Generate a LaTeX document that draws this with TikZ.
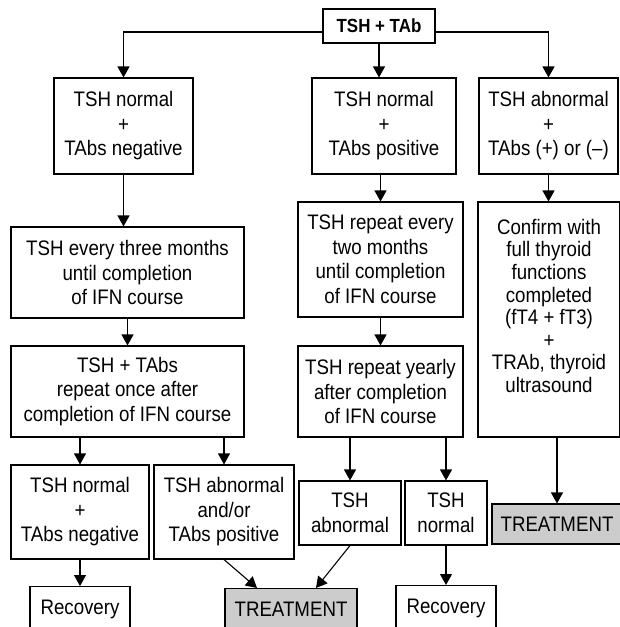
\documentclass[tikz,border=0pt]{standalone}
\usepackage{fontspec}
\setmainfont{Liberation Sans}[FakeStretch=0.89]
\usetikzlibrary{arrows.meta}
\definecolor{treatgray}{HTML}{CCCCCC}
\begin{document}
\begin{tikzpicture}[x=1pt,y=-1pt,
  box/.style={draw, line width=1.1pt, inner sep=0pt, align=center, font=\fontsize{21}{24.5}\selectfont},
  conn/.style={line width=1.1pt, -{Triangle[length=11pt,width=12pt]}},
  treat/.style={box, fill=treatgray},
  endbox/.style={box, anchor=north, text height=15.3pt, text depth=30pt, inner ysep=12.5pt}]
\useasboundingbox (0,0) rectangle (619,627);
% top
\node[box, minimum width=112pt, minimum height=34pt, font=\fontsize{19}{22}\selectfont\bfseries] (top) at (379,26) {TSH + TAb};
% row 1
\node[box, minimum width=139pt, minimum height=96pt] (L1) at (123.5,126) {TSH normal\\+\\TAbs negative};
\node[box, minimum width=144pt, minimum height=96pt] (M1) at (384,126) {TSH normal\\+\\TAbs positive};
\node[box, minimum width=139pt, minimum height=96pt] (R1) at (548.5,126) {TSH abnormal\\+\\TAbs (+) or (–)};
% row 2
\node[box, minimum width=233pt, minimum height=91pt] (L2) at (127.5,272.5) {TSH every three months\\until completion\\of IFN course};
\node[box, minimum width=165pt, minimum height=115pt] (M2) at (380.5,259.5) {TSH repeat every\\two months\\until completion\\of IFN course};
\node[box] (R2) at (549,319.5) {\parbox[c][235pt][t]{142pt}{\centering\fontsize{21}{22.6}\selectfont\vspace*{17pt}Confirm with\\full thyroid\\functions\\completed\\(fT4 + fT3)\\+\\TRAb, thyroid\\ultrasound}};
% row 3
\node[box, minimum width=233pt, minimum height=91pt] (L3) at (127.5,391.5) {TSH + TAbs\\repeat once after\\completion of IFN course};
\node[box, minimum width=165pt, minimum height=91pt] (M3) at (380.5,391.5) {TSH repeat yearly\\after completion\\of IFN course};
% row 4
\node[box, minimum width=138pt, minimum height=94pt] (L4a) at (80,512) {TSH normal\\+\\TAbs negative};
\node[box, minimum width=140pt, minimum height=94pt] (L4b) at (224,512) {TSH abnormal\\and/or\\TAbs positive};
\node[box, minimum width=102pt, minimum height=64pt] (M4a) at (350,513) {TSH\\abnormal};
\node[box, minimum width=82pt, minimum height=64pt] (M4b) at (446,513) {TSH\\normal};
\node[treat, minimum width=130pt, minimum height=40pt] (R3) at (557,524) {TREATMENT};
% row 5
\node[endbox, minimum width=100pt] (L5) at (80,586) {Recovery};
\node[endbox, treat, minimum width=132pt, inner ysep=12.7pt] (T2) at (291,588) {TREATMENT};
\node[endbox, minimum width=100pt] (M5) at (446,585) {Recovery};
% connectors
\draw[conn] ([yshift=-6pt]top.west) -| (L1.north);
\draw[conn] ([yshift=-6pt]top.east) -| (R1.north);
\draw[conn] (top.south) -- (top.south |- M1.north);
\draw[conn] (L1.south) -- (L1.south |- L2.north);
\draw[conn] (L2.south) -- (L3.north);
\draw[conn] (M2.north |- M1.south) -- (M2.north);
\draw[conn] (M2.south) -- (M3.north);
\draw[conn] (R1.south) -- (R1.south |- R2.north);
\draw[conn] (L4a.north |- L3.south) -- (L4a.north);
\draw[conn] (L4b.north |- L3.south) -- (L4b.north);
\draw[conn] (M4a.north |- M3.south) -- (M4a.north);
\draw[conn] (M4b.north |- M3.south) -- (M4b.north);
\draw[conn] (R3.north |- R2.south) -- (R3.north);
\draw[conn] (L4a.south) -- (L5.north);
\draw[conn] (L4b.south) -- ([xshift=-34pt]T2.north);
\draw[conn] (M4a.south) -- ([xshift=25pt]T2.north);
\draw[conn] (M4b.south) -- (M5.north);
\end{tikzpicture}
\end{document}
